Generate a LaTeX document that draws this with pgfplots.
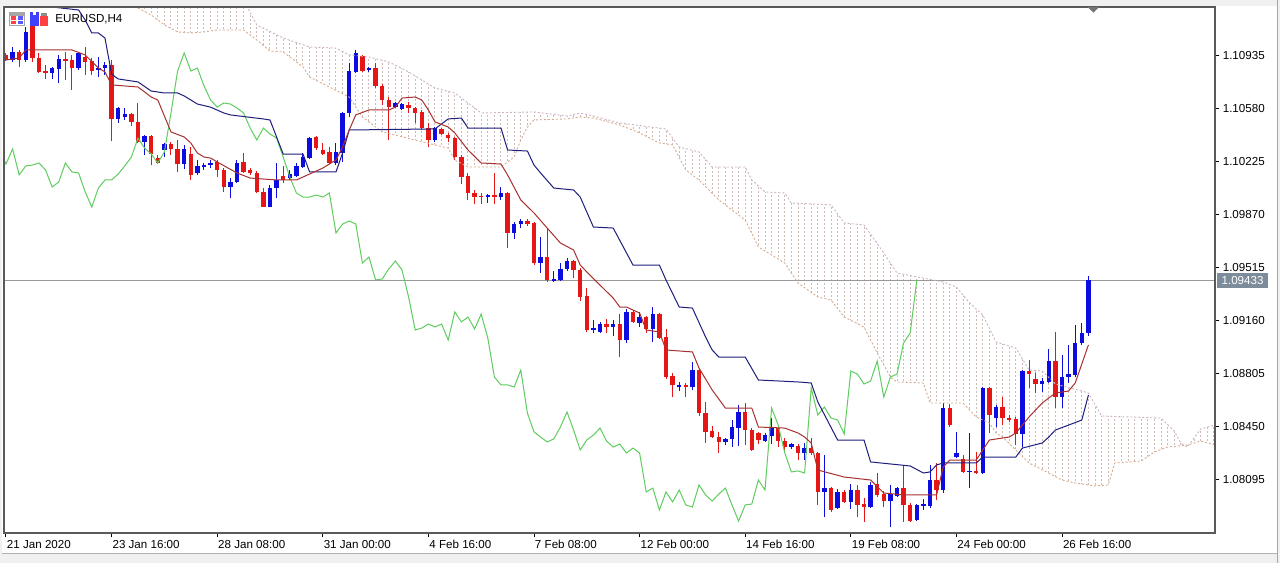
\documentclass[border=0pt]{standalone}
\usepackage{fontspec}
\setmainfont{Liberation Sans}
\usepackage{pgfplots}
\pgfplotsset{compat=1.18}
\usepackage{pgfplotstable}

\definecolor{cblue}{RGB}{12,12,225}
\definecolor{cred}{RGB}{230,22,22}
\definecolor{tenkan}{RGB}{168,48,48}
\definecolor{kijun}{RGB}{30,30,125}
\definecolor{chikou}{RGB}{95,205,95}
\definecolor{spana}{RGB}{215,172,142}
\definecolor{spanb}{RGB}{205,180,195}
\definecolor{cloudc}{RGB}{205,185,182}
\definecolor{pricebox}{RGB}{125,140,155}

\pgfplotstableread{
i d o h l c
0 0 1.10942 1.10955 1.10901 1.10908
1 1 1.10908 1.10995 1.10895 1.10962
2 0 1.10962 1.10975 1.10861 1.10908
3 1 1.10908 1.11129 1.10895 1.11096
4 0 1.11143 1.11176 1.10895 1.10921
5 0 1.10921 1.10955 1.10821 1.10828
6 0 1.10834 1.10875 1.10781 1.10821
7 1 1.10821 1.10861 1.10781 1.10854
8 1 1.10848 1.10942 1.10754 1.10915
9 0 1.10915 1.10962 1.10774 1.10901
10 0 1.10908 1.10942 1.10707 1.10854
11 1 1.10854 1.10962 1.10841 1.10955
12 0 1.10928 1.10995 1.10808 1.10895
13 0 1.10901 1.10921 1.10808 1.10834
14 1 1.10841 1.10928 1.10794 1.10854
15 1 1.10854 1.10895 1.10808 1.10875
16 0 1.10875 1.10908 1.10365 1.10513
17 1 1.10513 1.10592 1.10486 1.10586
18 1 1.10526 1.10586 1.10506 1.10546
19 0 1.10546 1.10553 1.10466 1.10493
20 0 1.10493 1.10620 1.10352 1.10359
21 1 1.10359 1.10406 1.10272 1.10399
22 0 1.10399 1.10406 1.10204 1.10278
23 0 1.10251 1.10272 1.10211 1.10218
24 1 1.10305 1.10352 1.10258 1.10345
25 0 1.10345 1.10359 1.10272 1.10312
26 0 1.10312 1.10372 1.10158 1.10211
27 1 1.10211 1.10339 1.10178 1.10312
28 0 1.10278 1.10325 1.10104 1.10138
29 1 1.10151 1.10238 1.10138 1.10198
30 1 1.10191 1.10218 1.10171 1.10204
31 1 1.10204 1.10238 1.10184 1.10218
32 0 1.10225 1.10238 1.10124 1.10171
33 0 1.10171 1.10184 1.10024 1.10057
34 1 1.10057 1.10117 1.09983 1.10091
35 1 1.10091 1.10238 1.10084 1.10218
36 0 1.10225 1.10285 1.10151 1.10158
37 0 1.10171 1.10184 1.10138 1.10151
38 0 1.10151 1.10164 1.10017 1.10024
39 0 1.10024 1.10050 1.09920 1.09923
40 1 1.09923 1.10070 1.09920 1.10050
41 1 1.10050 1.10218 1.09983 1.10104
42 0 1.10131 1.10198 1.10084 1.10104
43 1 1.10117 1.10171 1.10104 1.10144
44 1 1.10131 1.10218 1.10124 1.10198
45 1 1.10191 1.10285 1.10184 1.10258
46 1 1.10251 1.10392 1.10245 1.10385
47 0 1.10392 1.10399 1.10305 1.10318
48 0 1.10305 1.10352 1.10272 1.10278
49 0 1.10292 1.10325 1.10211 1.10218
50 1 1.10218 1.10352 1.10204 1.10292
51 1 1.10285 1.10560 1.10225 1.10553
52 1 1.10553 1.10888 1.10526 1.10834
53 1 1.10828 1.10975 1.10821 1.10955
54 0 1.10935 1.10942 1.10828 1.10834
55 1 1.10841 1.10861 1.10828 1.10854
56 0 1.10854 1.10888 1.10720 1.10734
57 0 1.10734 1.10747 1.10607 1.10640
58 0 1.10640 1.10660 1.10372 1.10592
59 1 1.10592 1.10627 1.10586 1.10620
60 1 1.10580 1.10620 1.10573 1.10613
61 0 1.10607 1.10627 1.10553 1.10586
62 0 1.10586 1.10592 1.10486 1.10553
63 0 1.10560 1.10573 1.10439 1.10452
64 0 1.10452 1.10486 1.10325 1.10372
65 1 1.10372 1.10459 1.10359 1.10452
66 0 1.10446 1.10452 1.10406 1.10412
67 0 1.10406 1.10419 1.10359 1.10385
68 0 1.10385 1.10392 1.10238 1.10258
69 0 1.10258 1.10272 1.10077 1.10124
70 0 1.10131 1.10151 1.09970 1.10017
71 0 1.10017 1.10037 1.09943 1.09990
72 0 1.09997 1.10017 1.09943 1.09990
73 1 1.09990 1.10010 1.09950 1.10003
74 0 1.10003 1.10151 1.09943 1.09990
75 1 1.09990 1.10057 1.09970 1.10017
76 0 1.10017 1.10024 1.09648 1.09749
77 1 1.09749 1.09823 1.09709 1.09809
78 1 1.09809 1.09843 1.09782 1.09829
79 0 1.09829 1.09843 1.09796 1.09809
80 0 1.09816 1.09823 1.09534 1.09548
81 1 1.09548 1.09722 1.09481 1.09588
82 0 1.09588 1.09776 1.09421 1.09434
83 1 1.09427 1.09494 1.09421 1.09441
84 1 1.09434 1.09548 1.09427 1.09508
85 1 1.09508 1.09581 1.09494 1.09561
86 0 1.09561 1.09568 1.09447 1.09501
87 0 1.09501 1.09514 1.09293 1.09320
88 0 1.09327 1.09380 1.09086 1.09099
89 1 1.09099 1.09166 1.09079 1.09112
90 1 1.09086 1.09153 1.09079 1.09139
91 0 1.09139 1.09173 1.09079 1.09119
92 1 1.09119 1.09166 1.09059 1.09139
93 0 1.09139 1.09206 1.08918 1.09032
94 1 1.09032 1.09240 1.09012 1.09220
95 0 1.09220 1.09233 1.09146 1.09153
96 1 1.09146 1.09220 1.09119 1.09186
97 0 1.09186 1.09193 1.09079 1.09106
98 1 1.09106 1.09253 1.09019 1.09206
99 0 1.09206 1.09213 1.09039 1.09045
100 0 1.09052 1.09106 1.08771 1.08784
101 0 1.08791 1.08811 1.08650 1.08731
102 1 1.08717 1.08751 1.08690 1.08731
103 0 1.08731 1.08744 1.08650 1.08717
104 1 1.08717 1.08885 1.08697 1.08831
105 0 1.08831 1.08838 1.08523 1.08543
106 0 1.08543 1.08617 1.08342 1.08416
107 0 1.08422 1.08456 1.08375 1.08382
108 0 1.08382 1.08416 1.08275 1.08349
109 1 1.08349 1.08375 1.08329 1.08369
110 1 1.08369 1.08496 1.08315 1.08449
111 1 1.08442 1.08597 1.08322 1.08550
112 0 1.08550 1.08610 1.08329 1.08429
113 0 1.08429 1.08442 1.08288 1.08295
114 0 1.08409 1.08416 1.08335 1.08362
115 1 1.08355 1.08409 1.08349 1.08395
116 1 1.08389 1.08509 1.08335 1.08442
117 0 1.08442 1.08462 1.08315 1.08355
118 0 1.08355 1.08375 1.08288 1.08315
119 1 1.08315 1.08342 1.08302 1.08335
120 0 1.08322 1.08335 1.08228 1.08275
121 1 1.08275 1.08342 1.08228 1.08308
122 0 1.08308 1.08375 1.08261 1.08275
123 0 1.08275 1.08282 1.07927 1.08014
124 1 1.08014 1.08261 1.07846 1.08040
125 0 1.08040 1.08047 1.07880 1.07893
126 1 1.07906 1.08034 1.07900 1.08014
127 0 1.08014 1.08027 1.07940 1.07947
128 1 1.07947 1.08067 1.07900 1.08027
129 0 1.08027 1.08061 1.07846 1.07927
130 0 1.07933 1.07973 1.07813 1.07913
131 1 1.07913 1.08081 1.07906 1.08061
132 0 1.08067 1.08141 1.07980 1.07994
133 0 1.08000 1.08020 1.07913 1.07953
134 1 1.07953 1.08061 1.07779 1.08000
135 1 1.07987 1.08047 1.07980 1.08040
136 0 1.08040 1.08195 1.07813 1.07927
137 0 1.07927 1.07940 1.07813 1.07819
138 1 1.07826 1.07933 1.07819 1.07927
139 1 1.07920 1.07967 1.07893 1.07933
140 1 1.07920 1.08195 1.07906 1.08094
141 0 1.08094 1.08208 1.07960 1.08027
142 1 1.08027 1.08610 1.08007 1.08576
143 0 1.08576 1.08603 1.08449 1.08462
144 1 1.08248 1.08416 1.08241 1.08275
145 0 1.08235 1.08261 1.08141 1.08148
146 1 1.08148 1.08409 1.08040 1.08155
147 0 1.08155 1.08282 1.08134 1.08141
148 1 1.08141 1.08717 1.08134 1.08710
149 0 1.08710 1.08717 1.08409 1.08530
150 1 1.08509 1.08597 1.08449 1.08583
151 0 1.08583 1.08650 1.08462 1.08509
152 0 1.08509 1.08530 1.08483 1.08496
153 0 1.08503 1.08516 1.08329 1.08402
154 1 1.08402 1.08831 1.08315 1.08824
155 0 1.08824 1.08898 1.08710 1.08804
156 0 1.08771 1.08811 1.08677 1.08737
157 1 1.08737 1.08777 1.08684 1.08757
158 1 1.08751 1.08972 1.08744 1.08891
159 0 1.08891 1.09086 1.08576 1.08650
160 1 1.08650 1.08932 1.08576 1.08784
161 1 1.08784 1.08999 1.08744 1.08804
162 1 1.08797 1.09133 1.08784 1.09012
163 1 1.09012 1.09146 1.08999 1.09079
164 1 1.09079 1.09461 1.09059 1.09433
}\candles

\pgfplotstableread{
x y
20 1.11310
36 1.11310
38 1.11143
42 1.11055
46 1.10995
50 1.10988
52 1.10942
55 1.10928
58 1.10895
61 1.10828
65 1.10720
68 1.10687
70 1.10620
72 1.10553
80 1.10560
85 1.10533
87 1.10553
89 1.10533
93 1.10486
100 1.10446
102 1.10325
105 1.10292
107 1.10191
112 1.10191
113 1.10104
115 1.10024
118 1.10017
119 1.09950
125 1.09937
127 1.09816
130 1.09803
133 1.09615
135 1.09481
139 1.09447
142 1.09421
144 1.09387
146 1.09280
148 1.09200
150 1.09019
153 1.08978
155 1.08831
157 1.08825
159 1.08737
163 1.08690
164 1.08677
166 1.08523
175 1.08509
177 1.08422
178 1.08341
179 1.08315
181 1.08436
183.18 1.08463
}\spanU

\pgfplotstableread{
x y
20 1.11256
22 1.11210
24 1.11143
26 1.11096
28 1.11089
30 1.11096
32 1.11109
36 1.11109
38 1.11042
40 1.10968
42 1.10962
45 1.10861
46 1.10794
49 1.10727
52 1.10660
54 1.10526
57 1.10426
62 1.10372
65 1.10339
67 1.10318
68 1.10238
70 1.10191
75 1.10191
77 1.10258
78 1.10372
79 1.10459
80 1.10506
85 1.10513
87 1.10526
89 1.10519
93 1.10473
96 1.10419
99 1.10352
101 1.10339
103 1.10171
105 1.10104
108 1.09970
112 1.09836
114 1.09655
118 1.09548
120 1.09414
123 1.09320
125 1.09300
127 1.09186
130 1.09119
132 1.08945
134 1.08784
135 1.08751
139 1.08744
140 1.08610
145 1.08610
147 1.08516
149 1.08476
150 1.08409
151 1.08382
153 1.08295
155 1.08208
158 1.08141
160 1.08094
162 1.08074
165 1.08054
167 1.08061
168 1.08208
172 1.08221
174 1.08282
176 1.08315
179 1.08328
181 1.08355
183.18 1.08328
}\spanL

\begin{document}
\begin{tikzpicture}
\fill[white] (0,0) rectangle (640pt,281.5pt);
\fill[black!6] (0,278.5pt) rectangle (640pt,281.5pt);
\fill[black!6] (0,0) rectangle (640pt,5pt);
\draw[black!30, line width=0.5pt] (0,5pt) -- (640pt,5pt);
\fill[black!6] (0,0) rectangle (1.2pt,281.5pt);
\fill[black!6] (638.5pt,0) rectangle (640pt,281.5pt);
\draw[black!35, line width=0.5pt] (638.6pt,0) -- (638.6pt,281.5pt);

\begin{axis}[
  at={(2pt,15pt)}, anchor=south west,
  scale only axis, width=605.5pt, height=263pt,
  xmin=-0.3, xmax=183.18, ymin=1.07739, ymax=1.11263,
  axis line style={draw=black!65, line width=0.8pt},
  xtick={0,16,32,48,64,80,96,112,128,144,160},
  xticklabels={21 Jan 2020,23 Jan 16:00,28 Jan 08:00,31 Jan 00:00,4 Feb 16:00,7 Feb 08:00,12 Feb 00:00,14 Feb 16:00,19 Feb 08:00,24 Feb 00:00,26 Feb 16:00},
  ytick={1.08095,1.08450,1.08805,1.09160,1.09515,1.09870,1.10225,1.10580,1.10935},
  yticklabels={1.08095,1.08450,1.08805,1.09160,1.09515,1.09870,1.10225,1.10580,1.10935},
  xtick pos=left, ytick pos=right,
  tick align=outside, major tick length=2.2pt,
  tick style={black, line width=0.5pt},
  tick label style={font=\fontsize{5.8}{7}\selectfont, text=black},
  xticklabel style={anchor=north west, inner sep=0pt, xshift=0.3pt, yshift=-1.2pt},
  yticklabel style={anchor=west, inner sep=0pt, xshift=1.5pt},
  extra x ticks={20,21,...,183},
  extra x tick style={grid=major, major tick length=0pt, xticklabel={},
    major grid style={cloudc, line width=0.5pt, dash pattern=on 1pt off 1pt}},
  extra y ticks={1.09433},
  extra y tick labels={1.09433},
  extra y tick style={major tick length=0pt, yticklabel style={fill=pricebox, text=white, inner xsep=2.2pt, inner ysep=1.7pt, xshift=-0.6pt}},
  clip=true,
]
% mask the hatch outside the cloud (above the upper span, below the lower span)
\addplot[fill=white, draw=none] coordinates {
(19.5,1.1150)(20,1.11310)(36,1.11310)(38,1.11143)(42,1.11055)(46,1.10995)(50,1.10988)(52,1.10942)(55,1.10928)(58,1.10895)(61,1.10828)(65,1.10720)(68,1.10687)(70,1.10620)(72,1.10553)(80,1.10560)(85,1.10533)(87,1.10553)(89,1.10533)(93,1.10486)(100,1.10446)(102,1.10325)(105,1.10292)(107,1.10191)(112,1.10191)(113,1.10104)(115,1.10024)(118,1.10017)(119,1.09950)(125,1.09937)(127,1.09816)(130,1.09803)(133,1.09615)(135,1.09481)(139,1.09447)(142,1.09421)(144,1.09387)(146,1.09280)(148,1.09200)(150,1.09019)(153,1.08978)(155,1.08831)(157,1.08825)(159,1.08737)(163,1.08690)(164,1.08677)(166,1.08523)(175,1.08509)(177,1.08422)(178,1.08341)(179,1.08315)(181,1.08436)(183.18,1.08463)(183.7,1.08463)(183.7,1.1150)};
\addplot[fill=white, draw=none] coordinates {
(19.5,1.0760)(19.5,1.11256)(20,1.11256)(22,1.11210)(24,1.11143)(26,1.11096)(28,1.11089)(30,1.11096)(32,1.11109)(36,1.11109)(38,1.11042)(40,1.10968)(42,1.10962)(45,1.10861)(46,1.10794)(49,1.10727)(52,1.10660)(54,1.10526)(57,1.10426)(62,1.10372)(65,1.10339)(67,1.10318)(68,1.10238)(70,1.10191)(75,1.10191)(77,1.10258)(78,1.10372)(79,1.10459)(80,1.10506)(85,1.10513)(87,1.10526)(89,1.10519)(93,1.10473)(96,1.10419)(99,1.10352)(101,1.10339)(103,1.10171)(105,1.10104)(108,1.09970)(112,1.09836)(114,1.09655)(118,1.09548)(120,1.09414)(123,1.09320)(125,1.09300)(127,1.09186)(130,1.09119)(132,1.08945)(134,1.08784)(135,1.08751)(139,1.08744)(140,1.08610)(145,1.08610)(147,1.08516)(149,1.08476)(150,1.08409)(151,1.08382)(153,1.08295)(155,1.08208)(158,1.08141)(160,1.08094)(162,1.08074)(165,1.08054)(167,1.08061)(168,1.08208)(172,1.08221)(174,1.08282)(176,1.08315)(179,1.08328)(181,1.08355)(183.18,1.08328)(183.7,1.08328)(183.7,1.0760)};

% current price line
\addplot[black!40, line width=0.5pt] coordinates {(-0.3,1.09433) (183.18,1.09433)};

% wicks
\addplot[draw=none, mark=none, restrict expr to domain={\thisrow{d}}{0.5:1.5},
  error bars/.cd, y dir=plus, y explicit, error mark=none,
  error bar style={draw=cblue, solid, line width=0.5pt}]
  table[x=i, y=l, y error plus expr=\thisrow{h}-\thisrow{l}] {\candles};
\addplot[draw=none, mark=none, restrict expr to domain={\thisrow{d}}{-0.5:0.5},
  error bars/.cd, y dir=plus, y explicit, error mark=none,
  error bar style={draw=cred, solid, line width=0.5pt}]
  table[x=i, y=l, y error plus expr=\thisrow{h}-\thisrow{l}] {\candles};
% bodies
\addplot[draw=none, mark=none, restrict expr to domain={\thisrow{d}}{0.5:1.5},
  error bars/.cd, y dir=plus, y explicit, error mark=none,
  error bar style={draw=cblue, solid, line width=2.2pt}]
  table[x=i, y=o, y error plus expr=\thisrow{c}-\thisrow{o}] {\candles};
\addplot[draw=none, mark=none, restrict expr to domain={\thisrow{d}}{-0.5:0.5},
  error bars/.cd, y dir=plus, y explicit, error mark=none,
  error bar style={draw=cred, solid, line width=2.2pt}]
  table[x=i, y=c, y error plus expr=\thisrow{o}-\thisrow{c}] {\candles};

% Senkou span boundaries
\addplot[spanb, line width=0.45pt, dash pattern=on 1pt off 1pt] table[x=x, y=y] {\spanU};
\addplot[spana, line width=0.45pt, dash pattern=on 1pt off 1pt] table[x=x, y=y] {\spanL};

% Chikou span (close shifted back 26 bars)
\addplot[chikou, line width=0.5pt] table[x expr=\thisrow{i}-26, y=c] {\candles};

% Kijun-sen
\addplot[kijun, line width=0.5pt] coordinates {
(0,1.11310)(6,1.11310)(7,1.11263)(11,1.11243)(12,1.11176)(13,1.11089)(14,1.11089)(15,1.11055)(16,1.10814)(17,1.10781)(20,1.10761)(22,1.10700)(24,1.10687)(26,1.10687)(27,1.10667)(29,1.10613)(31,1.10592)(33,1.10553)(34,1.10540)(39,1.10513)(40,1.10506)(42,1.10278)(45,1.10278)(46,1.10158)(50,1.10158)(51,1.10285)(52,1.10439)(65,1.10446)(67,1.10513)(69,1.10519)(70,1.10452)(75,1.10452)(76,1.10305)(79,1.10298)(80,1.10204)(81,1.10151)(83,1.10050)(86,1.10037)(87,1.09990)(89,1.09789)(92,1.09782)(95,1.09534)(99,1.09534)(100,1.09434)(102,1.09253)(104,1.09246)(106,1.09052)(107,1.08965)(108,1.08918)(112,1.08918)(114,1.08764)(120,1.08751)(122,1.08744)(123,1.08617)(126,1.08362)(130,1.08362)(131,1.08215)(137,1.08188)(139,1.08141)(140,1.08148)(141,1.08195)(142,1.08208)(147,1.08208)(148,1.08248)(153,1.08248)(154,1.08308)(157,1.08342)(158,1.08382)(159,1.08429)(161,1.08462)(163,1.08496)(164,1.08663)};

% Tenkan-sen
\addplot[tenkan, line width=0.5pt] coordinates {
(0,1.10908)(2,1.10921)(3,1.10975)(10,1.10975)(12,1.10942)(14,1.10854)(15,1.10828)(16,1.10741)(20,1.10727)(21,1.10694)(22,1.10660)(23,1.10640)(24,1.10533)(25,1.10426)(27,1.10392)(28,1.10352)(29,1.10285)(30,1.10258)(31,1.10251)(32,1.10225)(35,1.10151)(37,1.10117)(41,1.10104)(44,1.10104)(45,1.10124)(48,1.10184)(50,1.10238)(51,1.10325)(52,1.10439)(53,1.10540)(55,1.10573)(58,1.10573)(59,1.10592)(60,1.10653)(62,1.10660)(63,1.10640)(64,1.10573)(65,1.10493)(67,1.10459)(68,1.10419)(70,1.10305)(72,1.10218)(75,1.10211)(76,1.10138)(78,1.09970)(80,1.09883)(82,1.09782)(84,1.09682)(86,1.09635)(87,1.09535)(88,1.09488)(90,1.09400)(92,1.09313)(93,1.09253)(94,1.09253)(96,1.09213)(97,1.09099)(99,1.09086)(100,1.08965)(104,1.08952)(105,1.08844)(107,1.08697)(109,1.08576)(113,1.08576)(114,1.08449)(118,1.08442)(120,1.08409)(121,1.08382)(122,1.08342)(123,1.08161)(127,1.08114)(131,1.08094)(133,1.08007)(136,1.07994)(141,1.07994)(142,1.08181)(143,1.08228)(147,1.08228)(148,1.08295)(149,1.08362)(152,1.08382)(153,1.08409)(155,1.08516)(157,1.08610)(159,1.08677)(161,1.08690)(162,1.08744)(164,1.08999)};
\end{axis}

% chart frame redrawn above the masks
\draw[black!65, line width=0.8pt] (2pt,15pt) rectangle (607.5pt,278pt);

% header icons and symbol
\fill[black!35] (4.5pt,268.5pt) rectangle (12.5pt,275.5pt);
\fill[white] (5.2pt,269.2pt) rectangle (11.8pt,273.6pt);
\fill[red!75] (5.5pt,269.5pt) rectangle (8.2pt,273.3pt);
\fill[blue!65] (8.8pt,269.5pt) rectangle (11.5pt,273.3pt);
\draw[white, line width=0.3pt] (5.5pt,271.4pt) -- (11.5pt,271.4pt);
\fill[blue!75] (15.2pt,268.5pt) rectangle (19.4pt,275.5pt);
\fill[white] (16.4pt,274.2pt) rectangle (18.2pt,275.5pt);
\fill[red!75] (19.9pt,268.5pt) rectangle (24pt,273.5pt);
\fill[black!45] (20.5pt,273.5pt) rectangle (23.4pt,275pt);
\node[anchor=west, inner sep=0pt, font=\fontsize{5.8}{7}\selectfont] at (27.5pt,272pt) {EURUSD,H4};
% chart shift marker
\fill[black!55] (543.8pt,278pt) -- (549.6pt,278pt) -- (546.7pt,275.2pt) -- cycle;
\pgfresetboundingbox
\useasboundingbox (0,0) rectangle (640pt,281.5pt);
\end{tikzpicture}
\end{document}
